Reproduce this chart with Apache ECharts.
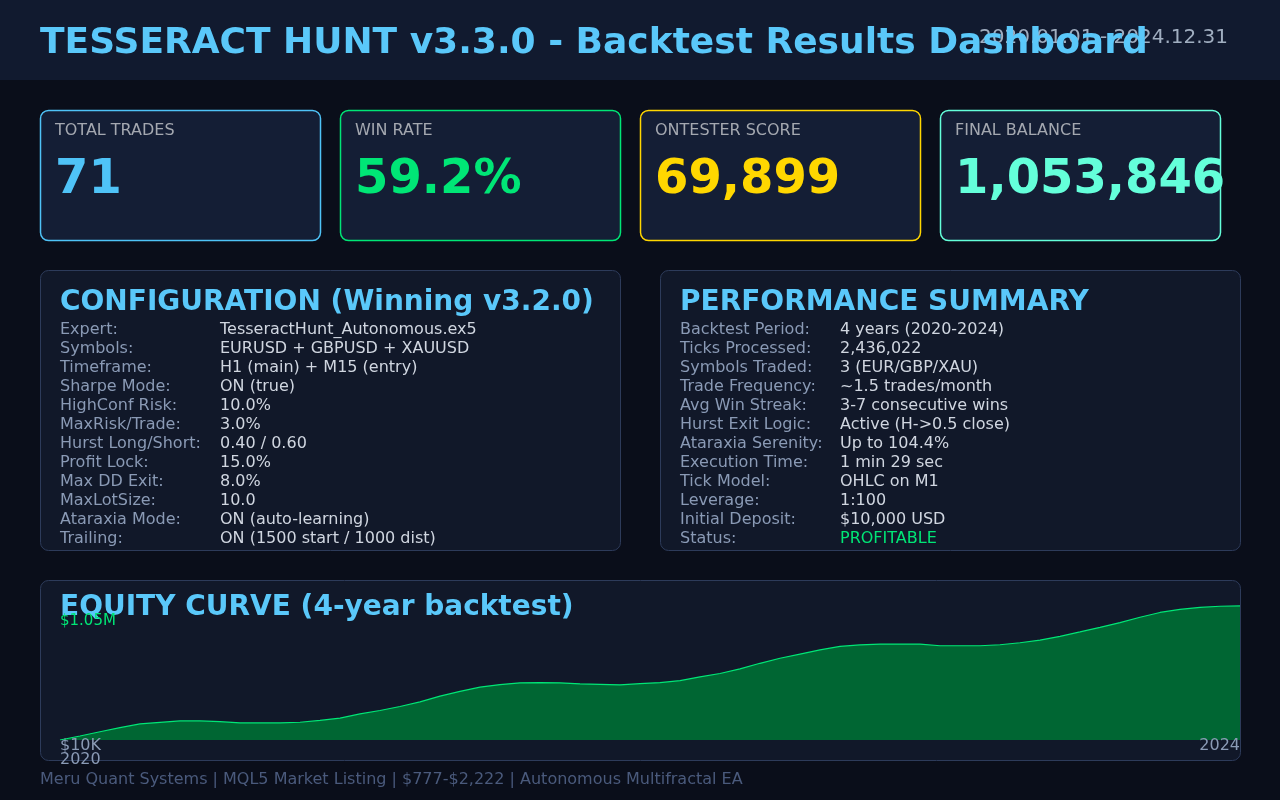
<!DOCTYPE html>
<html>
<head>
<meta charset="utf-8">
<script src="https://cdn.jsdelivr.net/npm/echarts@6/dist/echarts.min.js"></script>
<style>
html,body{margin:0;padding:0;background:#0a0e1a;}
#chart{width:1280px;height:800px;}
</style>
</head>
<body>
<div id="chart"></div>
<script>
// ---- Data ----
const equityValues = [10000, 41200, 74000, 106000, 135000, 147400, 158300, 158300, 152900, 142700,
  142700, 142700, 148200, 162200, 180200, 213000, 239500, 270800, 306700, 351200,
  388600, 421400, 441700, 455000, 457300, 455000, 447200, 443300, 439400, 448800,
  457300, 472200, 501800, 527600, 564300, 607200, 646300, 679100, 711100, 738400,
  750100, 757100, 757100, 757100, 743900, 743900, 743900, 751700, 767300, 787600,
  816500, 851600, 887500, 924200, 965600, 1003000, 1026500, 1042100, 1051500, 1053846];
const equityIndex = equityValues.map((_, i) => i);
const yTickLabels = ['$10K', '$1.05M'];
const xTickLabels = ['2020', '2024'];

const kpiLabels = ['TOTAL TRADES', 'WIN RATE', 'ONTESTER SCORE', 'FINAL BALANCE'];
const kpiValues = ['71', '59.2%', '69,899', '1,053,846'];
const kpiColors = ['#4fc3f7', '#00e676', '#ffd700', '#64ffda'];

const configLabels = ['Expert:', 'Symbols:', 'Timeframe:', 'Sharpe Mode:', 'HighConf Risk:', 'MaxRisk/Trade:',
  'Hurst Long/Short:', 'Profit Lock:', 'Max DD Exit:', 'MaxLotSize:', 'Ataraxia Mode:', 'Trailing:'];
const configValues = ['TesseractHunt_Autonomous.ex5', 'EURUSD + GBPUSD + XAUUSD', 'H1 (main) + M15 (entry)',
  'ON (true)', '10.0%', '3.0%', '0.40 / 0.60', '15.0%', '8.0%', '10.0', 'ON (auto-learning)', 'ON (1500 start / 1000 dist)'];
const perfLabels = ['Backtest Period:', 'Ticks Processed:', 'Symbols Traded:', 'Trade Frequency:', 'Avg Win Streak:',
  'Hurst Exit Logic:', 'Ataraxia Serenity:', 'Execution Time:', 'Tick Model:', 'Leverage:', 'Initial Deposit:', 'Status:'];
const perfValues = ['4 years (2020-2024)', '2,436,022', '3 (EUR/GBP/XAU)', '~1.5 trades/month', '3-7 consecutive wins',
  'Active (H->0.5 close)', 'Up to 104.4%', '1 min 29 sec', 'OHLC on M1', '1:100', '$10,000 USD', 'PROFITABLE'];

// ---- Build ----
const FONT = '"DejaVu Sans", sans-serif';
const g = [];
function txt(x, y, text, size, color, weight, align, z) {
  g.push({type: 'text', x: x, y: y, z: z || 10, style: {text: text, fill: color, font: (weight || 'normal') + ' ' + size + 'px ' + FONT,
    textAlign: align || 'left', textVerticalAlign: 'middle'}});
}
function box(x, y, w, h, fill, stroke, lw, r) {
  g.push({type: 'rect', shape: {x: x, y: y, width: w, height: h, r: r}, z: 1,
    style: {fill: fill, stroke: stroke, lineWidth: lw}});
}
// header
g.push({type: 'rect', shape: {x: 0, y: 0, width: 1280, height: 80}, z: 0, style: {fill: '#111a2f'}});
txt(1228, 38, '2020.01.01 - 2024.12.31', 20, '#a0aec0', 'normal', 'right', 5);
txt(40, 44, 'TESSERACT HUNT v3.3.0 - Backtest Results Dashboard', 36, '#5ac8fa', 'bold', 'left', 10);
// KPI cards
kpiLabels.forEach((l, i) => {
  const x = 40 + i * 300;
  box(x + 0.5, 110.5, 280, 130, '#141e35', kpiColors[i], 1.5, 8);
  txt(x + 15, 131, l, 16, '#a4a8b0', 'normal', 'left');
  txt(x + 15, 181, kpiValues[i], 48, kpiColors[i], 'bold', 'left');
});
// panels
box(40.5, 270.5, 580, 280, '#111829', '#2d3b5a', 1, 8);
box(660.5, 270.5, 580, 280, '#111829', '#2d3b5a', 1, 8);
txt(60, 303, 'CONFIGURATION (Winning v3.2.0)', 28, '#5ac8fa', 'bold', 'left');
txt(680, 303, 'PERFORMANCE SUMMARY', 28, '#5ac8fa', 'bold', 'left');
configLabels.forEach((l, i) => {
  const y = 330 + i * 19;
  txt(60, y, l, 16, '#8a9ab5', 'normal', 'left');
  txt(220, y, configValues[i], 16, '#d0d6e0', 'normal', 'left');
});
perfLabels.forEach((l, i) => {
  const y = 330 + i * 19;
  txt(680, y, l, 16, '#8a9ab5', 'normal', 'left');
  txt(840, y, perfValues[i], 16, i === perfLabels.length - 1 ? '#00e676' : '#d0d6e0', 'normal', 'left');
});
// equity panel
box(40.5, 580.5, 1200, 180, '#111829', '#2d3b5a', 1, 8);
txt(60, 608, 'EQUITY CURVE (4-year backtest)', 28, '#5ac8fa', 'bold', 'left', 20);
txt(60, 621, yTickLabels[1], 15, '#00e676', 'normal', 'left', 21);
txt(60, 746, yTickLabels[0], 16, '#8a9ab5', 'normal', 'left', 21);
txt(60, 760, xTickLabels[0], 16, '#8a9ab5', 'normal', 'left', 21);
txt(1240, 746, xTickLabels[1], 16, '#8a9ab5', 'normal', 'right', 21);
// footer
txt(40, 780, 'Meru Quant Systems | MQL5 Market Listing | $777-$2,222 | Autonomous Multifractal EA', 16, '#4a5a7c', 'normal', 'left');

const chart = echarts.init(document.getElementById('chart'));
chart.setOption({
  backgroundColor: '#0a0e1a',
  animation: false,
  grid: {left: 60, right: 40, top: 600, bottom: 60},
  xAxis: {type: 'category', data: equityIndex, boundaryGap: false, show: false},
  yAxis: {type: 'value', min: 10000, max: 1100000, show: false},
  series: [{
    type: 'line', data: equityValues, symbol: 'none', z: 5,
    lineStyle: {color: '#00e676', width: 1.2},
    areaStyle: {color: '#006633', opacity: 1, origin: 'start'}
  }],
  graphic: {elements: g}
});
</script>
</body>
</html>
